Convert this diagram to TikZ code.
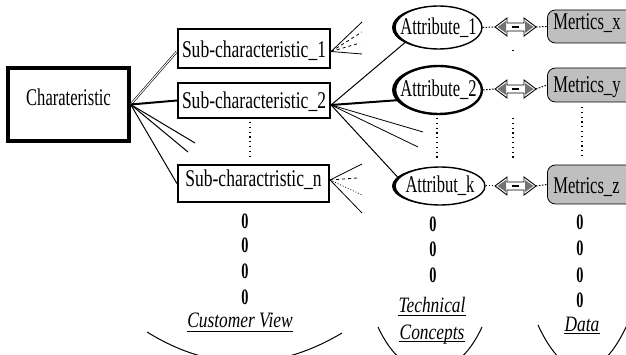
\documentclass[tikz,border=0pt]{standalone}
\usepackage{fontspec}
\setmainfont{Liberation Serif}
\newfontfamily\condA[FakeStretch=0.69]{Liberation Serif}
\newfontfamily\condB[FakeStretch=0.73]{Liberation Serif}
\newfontfamily\condZ[FakeStretch=0.65]{Liberation Serif}
\newfontfamily\condI[FakeStretch=0.79]{Liberation Serif}
\usetikzlibrary{shapes.geometric,shadows}
\newcommand{\dblarr}[2]{%
  \begin{scope}[shift={(#1,#2)}]
    \filldraw[fill=white, line width=0.9pt, line join=miter]
      (0,0) -- (12,-9) -- (12,-4) -- (29,-4) -- (29,-9) -- (41,0) -- (29,9) -- (29,4) -- (12,4) -- (12,9) -- cycle;
    \fill[black!55] (2.5,0) -- (11,-6) -- (11,6) -- cycle;
    \fill[black!55] (38.5,0) -- (30,-6) -- (30,6) -- cycle;
    \draw[line width=1.2pt] (17,0) -- (24,0);
  \end{scope}}
\tikzset{
  charbox/.style={draw, line width=3.3pt, inner sep=0pt, minimum width=121pt,
    font=\condA\fontsize{24}{24}\selectfont},
  subbox/.style={draw, line width=2.2pt, inner xsep=0pt, inner ysep=0pt, minimum width=152pt,
    font=\condB\fontsize{24}{24}\selectfont},
  attr/.style={ellipse, draw, fill=white, line width=1.4pt, inner sep=0pt,
    general shadow={shadow xshift=-3pt, fill=black},
    font=\condA\fontsize{24}{24}\selectfont},
  metric/.style={draw, fill=black!25, rounded corners=8pt, line width=0.8pt,
    inner xsep=6pt, inner ysep=0pt, text width=88pt, align=left,
    font=\condA\fontsize{24}{24}\selectfont},
  zero/.style={inner sep=0pt, anchor=base, font=\condZ\bfseries\fontsize{22}{22}\selectfont},
  lab/.style={inner sep=0pt, anchor=base, font=\condI\itshape\fontsize{22}{22}\selectfont},
  conn/.style={line width=1pt},
  fan/.style={line width=0.8pt},
  dotconn/.style={line width=1pt, dash pattern=on 1.5pt off 1.5pt},
  vdots/.style={line width=1.3pt, dash pattern=on 1.3pt off 3.5pt}
}
\begin{document}
\begin{tikzpicture}[x=1pt,y=-1pt]
\useasboundingbox (0,0) rectangle (626,355);
\clip (0,0) rectangle (626,355);

% main boxes
\node[charbox, text height=38pt, text depth=35pt, anchor=base] (ch) at (68.5,106) {Charateristic};
\node[subbox, text height=28.5pt, text depth=10.5pt, anchor=base] (s1) at (254,57.5) {Sub-characteristic\_1};
\node[subbox, text height=26pt, text depth=9pt, anchor=base] (s2) at (254,109) {Sub-characteristic\_2};
\node[subbox, minimum width=151pt, text height=21.5pt, text depth=15.5pt, anchor=base] (sn) at (253.5,186.5) {Sub-charactristic\_n};

% attributes
\node[attr, minimum width=87pt, minimum height=43pt] (a1) at (438.5,27.5) {\makebox[0pt]{Attribute\_1}};
\node[attr, line width=2.4pt, minimum width=87pt, minimum height=48pt] (a2) at (438.5,90) {\makebox[0pt]{Attribute\_2}};
\node[attr, minimum width=90pt, minimum height=38pt] (ak) at (440,186) {\makebox[0pt]{Attribut\_k}};

% metrics
\node[metric, text height=20pt, text depth=13pt, anchor=base west] (m1) at (547,30) {Mertics\_x};
\node[metric, text height=25pt, text depth=9pt, anchor=base west] (m2) at (547,93) {Metrics\_y};
\node[metric, text height=29pt, text depth=10pt, anchor=base west] (m3) at (547,194) {Metrics\_z};

% double arrows
\dblarr{495}{27}
\dblarr{495}{89}
\dblarr{495}{186}
\coordinate (p1l) at (495,27); \coordinate (p1r) at (536,27);
\coordinate (p2l) at (495,89); \coordinate (p2r) at (536,89);
\coordinate (p3l) at (495,186); \coordinate (p3r) at (536,186);
\draw[dotconn] (a1.east) -- (p1l); \draw[dotconn] (p1r) -- (m1.west);
\draw[dotconn] (a2.east) -- (p2l); \draw[dotconn] (p2r) -- (m2.west);
\draw[dotconn] (ak.east) -- (p3l); \draw[dotconn] (p3r) -- (m3.west);

% characteristic to sub-characteristics
\coordinate (c3) at (195,143);
\coordinate (c4) at (188,152);
\draw[double, double distance=1pt, line width=0.6pt] (ch.east) -- ([yshift=-3pt]s1.west);
\draw[line width=2pt] (ch.east) -- (s2.west);
\draw[conn] (ch.east) -- (c3);
\draw[conn] (ch.east) -- (c4);
\draw[conn] (ch.east) -- (sn.west);

% fan from sub 1
\coordinate (f11) at (362,22);
\coordinate (f12) at (362,32);
\coordinate (f13) at (360,43);
\coordinate (f14) at (362,54);
\draw[fan] ([yshift=-3pt]s1.east) -- (f11);
\draw[fan, dashed] ([yshift=-3pt]s1.east) -- (f12);
\draw[fan, dashed] ([yshift=-3pt]s1.east) -- (f13);
\draw[fan] ([yshift=-3pt]s1.east) -- (f14);

% fan from sub 2
\coordinate (f21) at (423,132);
\coordinate (f22) at (418,147);
\draw[conn] ([yshift=-4.5pt]s2.east) -- (a1.204);
\draw[line width=2pt] ([yshift=-4.5pt]s2.east) -- (a2.194);
\draw[fan] ([yshift=-4.5pt]s2.east) -- (f21);
\draw[fan] ([yshift=-4.5pt]s2.east) -- (f22);
\draw[conn] ([yshift=-4.5pt]s2.east) -- (ak.169);

% fan from sub n
\coordinate (fn1) at (362,164);
\coordinate (fn2) at (357,178);
\coordinate (fn3) at (362,195);
\coordinate (fn4) at (362,213);
\draw[fan] ([yshift=3.5pt]sn.east) -- (fn1);
\draw[fan, dashed] ([yshift=3.5pt]sn.east) -- (fn2);
\draw[fan, dotted] ([yshift=3.5pt]sn.east) -- (fn3);
\draw[fan] ([yshift=3.5pt]sn.east) -- (fn4);

% vertical dots
\coordinate (d1a) at (250,122); \coordinate (d1b) at (250,160);
\coordinate (d2a) at (437,118); \coordinate (d2b) at (437,158);
\coordinate (d3a) at (513,118); \coordinate (d3b) at (513,158);
\coordinate (d4a) at (582,107); \coordinate (d4b) at (582,158);
\coordinate (d5a) at (513,50);  \coordinate (d5b) at (513,53);
\draw[vdots] (d1a) -- (d1b);
\draw[vdots] (d2a) -- (d2b);
\draw[vdots] (d3a) -- (d3b);
\draw[vdots] (d4a) -- (d4b);
\draw[vdots] (d5a) -- (d5b);

% zeros
\node[zero] (z11) at (245,229) {0};
\node[zero] (z12) at (245,253) {0};
\node[zero] (z13) at (245,278) {0};
\node[zero] (z14) at (245,304) {0};
\node[zero] (z21) at (433,232) {0};
\node[zero] (z22) at (433,257) {0};
\node[zero] (z23) at (433,282) {0};
\node[zero] (z31) at (580,230) {0};
\node[zero] (z32) at (580,256) {0};
\node[zero] (z33) at (580,282) {0};
\node[zero] (z34) at (580,307) {0};

% labels
\node[lab] (cv) at (240,327) {Customer View};
\draw[line width=0.9pt] ([yshift=-4pt]cv.base west) -- ([yshift=-4pt]cv.base east);
\node[lab] (tc1) at (432,312.5) {Technical};
\draw[line width=0.9pt] ([yshift=-2.5pt]tc1.base west) -- ([yshift=-2.5pt]tc1.base east);
\node[lab] (tc2) at (432,339) {Concepts};
\draw[line width=0.9pt] ([yshift=-2pt]tc2.base west) -- ([yshift=-2pt]tc2.base east);
\node[lab] (dt) at (582,331) {Data};
\draw[line width=0.9pt] ([yshift=-2.5pt]dt.base west) -- ([yshift=-2.5pt]dt.base east);

% bottom curves
\coordinate (b1a) at (147,332); \coordinate (b1b) at (342,333);
\coordinate (b2a) at (378,327); \coordinate (b2b) at (482,327);
\coordinate (b3a) at (538,325); \coordinate (b3b) at (627,325);
\draw[line width=1pt] (b1a) .. controls (211.7,372) and (276.7,372) .. (b1b);
\draw[line width=1pt] (b2a) .. controls (405,386) and (455,386) .. (b2b);
\draw[line width=1pt] (b3a) .. controls (565,384) and (600,384) .. (b3b);
\end{tikzpicture}
\end{document}
